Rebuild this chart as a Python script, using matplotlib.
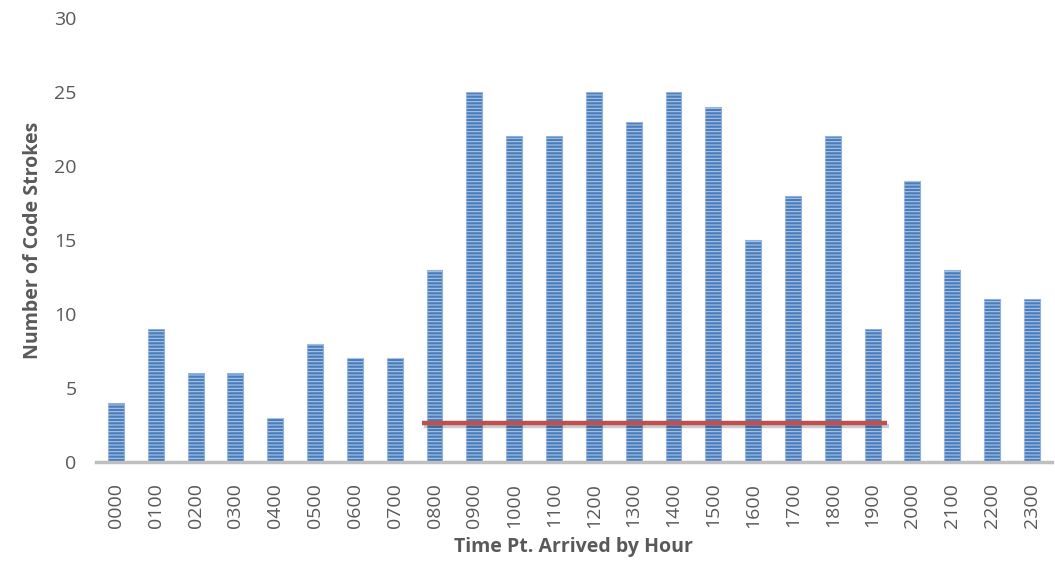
import numpy as np
import matplotlib
matplotlib.use('Agg')
import matplotlib.pyplot as plt
import matplotlib.patheffects as pe

# Datos
horas = ['0000', '0100', '0200', '0300', '0400', '0500', '0600', '0700',
         '0800', '0900', '1000', '1100', '1200', '1300', '1400', '1500',
         '1600', '1700', '1800', '1900', '2000', '2100', '2200', '2300']
valores = [4, 9, 6, 6, 3, 8, 7, 7, 13, 25, 22, 22, 25, 23, 25, 24,
           15, 18, 22, 9, 19, 13, 11, 11]
linea_inicio, linea_fin = '0800', '1900'
linea_valor = 2.6

plt.rcParams['font.family'] = ['Open Sans', 'DejaVu Sans']
plt.rcParams['hatch.linewidth'] = 0.75

fig = plt.figure(figsize=(10.55, 5.64), dpi=100)
ax = fig.add_axes([0.091, 0.181, 0.906, 0.787])

x = np.arange(len(horas))
# barras base y rayas horizontales claras encima
ax.bar(x, valores, width=0.4, color='#4a7ebb', edgecolor='#8fb0dc',
       linewidth=0.8, zorder=2)
ax.bar(x, valores, width=0.4, facecolor='none', edgecolor='#b3c8e8',
       linewidth=0, hatch='-----', zorder=2.5)

i0 = horas.index(linea_inicio)
i1 = horas.index(linea_fin)
ax.plot([i0 - 0.32, i1 + 0.35], [linea_valor, linea_valor], color='#c0504d',
        linewidth=3.2, solid_capstyle='butt', zorder=3,
        path_effects=[pe.SimpleLineShadow(offset=(1.5, -2), alpha=0.2),
                      pe.Normal()])

ax.set_xlim(-0.5, len(horas) - 0.5)
ax.set_ylim(0, 30)
ax.set_yticks(range(0, 31, 5))
ax.set_xticks(x)
ax.set_xticklabels(horas, rotation=90)

for s in ['top', 'right', 'left']:
    ax.spines[s].set_visible(False)
ax.spines['bottom'].set_color('#bfbfbf')
ax.spines['bottom'].set_linewidth(2.5)
ax.tick_params(axis='both', length=0, labelsize=14, labelcolor='#595959')
ax.tick_params(axis='y', pad=14)
ax.tick_params(axis='x', pad=15)

ax.set_xlabel('Time Pt. Arrived by Hour', fontsize=14, fontweight='bold',
              color='#595959', labelpad=7)
ax.set_ylabel('Number of Code Strokes', fontsize=14, fontweight='bold',
              color='#595959', labelpad=8)

plt.savefig('out.png', dpi=100)
